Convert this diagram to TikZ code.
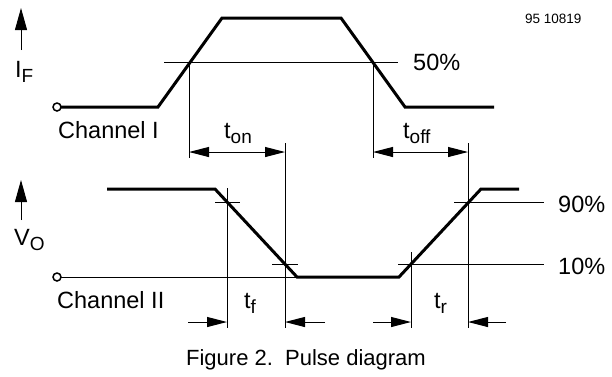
\documentclass[tikz,border=0pt]{standalone}
\usepackage{fontspec}
\setmainfont{Liberation Sans}
\usetikzlibrary{arrows.meta}
\newcommand{\lowsub}[1]{\raisebox{-5pt}{\fontsize{19}{19}\selectfont #1}}

\begin{document}
\begin{tikzpicture}[x=1pt, y=-1pt,
  wave/.style={line width=3pt},
  thin/.style={line width=1pt},
  dim/.style={line width=1pt, -{Triangle[length=20pt,width=10pt]}},
  dimboth/.style={line width=1pt, {Triangle[length=20pt,width=10pt]}-{Triangle[length=20pt,width=10pt]}},
  axis/.style={line width=1pt, -{Triangle[length=22pt,width=12pt]}},
  lbl/.style={font=\fontsize{23.5}{26}\selectfont, inner sep=0pt, anchor=base west}]
\useasboundingbox (0,0) rectangle (612,376);

% channel I
\draw [axis] (21,50) -- (21,8);
\node[lbl] (IF) at (15,77) {I\lowsub{F}};
\draw [line width=1.5pt] (57,107) circle (4);
\draw [wave] (61,107) -- (158,107) -- (222,18) -- (341,18) -- (405,107) -- (494,107);
\node[lbl] (chI) at (58,138) {Channel I};
\draw [thin] (164,62) -- (398,62);
\node[lbl] (fifty) at (413,70) {50\%};
\draw [thin] (189,62) -- (189,158);
\draw [thin] (373,62) -- (373,158);
\draw [thin] (285,143) -- (285,328);
\draw [thin] (468,143) -- (468,328);
\draw [dimboth] (189,152) -- (285,152);
\node[lbl] (ton) at (224,138) {t\lowsub{on}};
\draw [dimboth] (373,152) -- (468,152);
\node[lbl] (toff) at (403,138) {t\lowsub{off}};

% channel II
\draw [axis] (21,220) -- (21,180);
\node[lbl] (VO) at (14,245) {V\lowsub{O}};
\draw [line width=1.5pt] (57,277) circle (4);
\draw [thin] (61,277) -- (297,277);
\draw [wave] (107,189) -- (215,189) -- (297,277) -- (399,277) -- (481,189) -- (519,189);
\node[lbl] (chII) at (57,308) {Channel II};
\draw [thin] (215,202) -- (240,202);
\draw [thin] (272,264) -- (298,264);
\draw [thin] (454,202) -- (544,202);
\draw [thin] (398,264) -- (544,264);
\node[lbl] (ninety) at (558,212) {90\%};
\node[lbl] (ten) at (558,274) {10\%};
\draw [thin] (227,188) -- (227,328);
\draw [thin] (411,252) -- (411,328);
\draw [dim] (188,322) -- (227,322);
\draw [dim] (325,322) -- (285,322);
\node[lbl] (tf) at (244,308) {t\lowsub{f}};
\draw [dim] (373,322) -- (411,322);
\draw [dim] (506,322) -- (468,322);
\node[lbl] (tr) at (434,308) {t\lowsub{r}};

\node[lbl, font=\fontsize{13.5}{15}\selectfont] (docno) at (525,23) {95 10819};
\node[lbl, anchor=base, font=\fontsize{22}{24}\selectfont] (caption) at (306,365) {Figure 2.\ \ Pulse diagram};
\end{tikzpicture}
\end{document}
